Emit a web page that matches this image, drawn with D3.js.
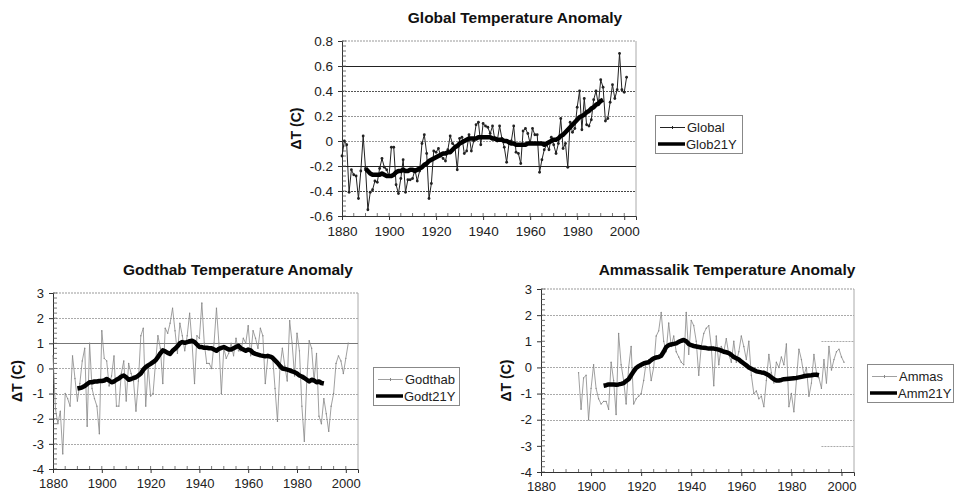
<!DOCTYPE html>
<html>
<head>
<meta charset="utf-8">
<script src="https://cdn.jsdelivr.net/npm/d3@7"></script>
<style>
  body { margin: 0; background: #fff; }
  svg { font-family: "Liberation Sans", Arial, sans-serif; }
</style>
</head>
<body>
<svg id="canvas" width="955" height="498"></svg>
<script>
// ---- data ----
let xTickYears = [1880, 1900, 1920, 1940, 1960, 1980, 2000];

let globalStart = 1880;
let globalValues = [
  -0.12, 0.0, -0.03, -0.41, -0.23, -0.27, -0.28, -0.46, -0.24, 0.04,
  -0.22, -0.55, -0.41, -0.39, -0.32, -0.33, -0.22, -0.14, -0.21, -0.23,
  -0.28, -0.05, -0.05, -0.35, -0.42, -0.30, -0.15, -0.41, -0.31, -0.31,
  -0.30, -0.23, -0.32, -0.24, -0.02, 0.05, -0.10, -0.46, -0.34, -0.08,
  -0.09, -0.06, -0.12, -0.14, -0.16, -0.07, 0.04, -0.02, -0.04, -0.23,
  0.02, 0.03, -0.10, -0.08, 0.05, -0.08, 0.0, 0.13, 0.15, -0.03,
  0.14, 0.12, 0.11, 0.06, 0.12, 0.01, 0.0, 0.12, 0.02, -0.05,
  -0.17, -0.02, 0.0, 0.12, -0.09, -0.10, -0.18, 0.08, 0.10, 0.06,
  -0.02, 0.10, 0.05, 0.05, -0.25, -0.15, -0.07, -0.03, -0.07, 0.03,
  -0.03, -0.10, -0.02, 0.18, -0.06, -0.02, -0.21, 0.15, 0.07, 0.10,
  0.27, 0.40, 0.09, 0.34, 0.13, 0.12, 0.17, 0.33, 0.40, 0.29,
  0.49, 0.43, 0.16, 0.18, 0.31, 0.45, 0.34, 0.41, 0.70, 0.41,
  0.39, 0.51
];
let glob21Start = 1890;
let glob21Values = [
  -0.22, -0.24, -0.26, -0.27, -0.27, -0.27, -0.27, -0.26, -0.27, -0.28,
  -0.28, -0.28, -0.27, -0.25, -0.24, -0.24, -0.23, -0.24, -0.24, -0.23,
  -0.23, -0.24, -0.23, -0.22, -0.21, -0.19, -0.18, -0.16, -0.15, -0.14,
  -0.13, -0.12, -0.11, -0.10, -0.10, -0.09, -0.09, -0.07, -0.05, -0.04,
  -0.02, -0.01, 0.0, 0.01, 0.02, 0.02, 0.02, 0.02, 0.03, 0.03,
  0.03, 0.03, 0.03, 0.03, 0.02, 0.02, 0.01, 0.01, 0.01, 0.0,
  0.0, -0.01, -0.02, -0.02, -0.03, -0.03, -0.03, -0.03, -0.03, -0.02,
  -0.02, -0.02, -0.02, -0.02, -0.02, -0.02, -0.03, -0.02, -0.01, 0.0,
  0.01, 0.01, 0.02, 0.04, 0.05, 0.07, 0.09, 0.11, 0.13, 0.15,
  0.17, 0.19, 0.20, 0.21, 0.23, 0.24, 0.26, 0.27, 0.29, 0.30,
  0.32, 0.33
];

let godthabStart = 1880;
let godthabValues = [
  0.5, -1.6, -2.2, -1.7, -3.4, -1.0, -1.2, -1.5, 0.5, -0.4,
  -1.3, -0.6, 0.3, 0.8, -2.3, 1.0, -0.8, -1.2, -1.5, -2.6,
  1.5, 0.4, 0.3, -0.7, -0.3, 0.5, -1.5, -1.5, -0.2, 0.3,
  -1.3, 0.2, -0.2, -0.5, -1.7, -0.5, 1.3, 1.6, -1.5, 0.1,
  -1.1, -1.0, 0.2, 1.3, 0.8, -0.6, 1.6, 1.4, 1.8, 2.4,
  1.5, 0.6, 1.8, 1.3, 0.7, 1.3, 2.2, 1.0, -0.6, 1.3,
  1.2, 2.6, 1.0, 0.2, 0.2, 0.0, 1.0, 2.4, 1.0, -1.0,
  0.8, 0.4, 0.6, 1.0, 0.5, 1.2, 0.7, 0.7, 1.2, 1.0,
  1.7, 0.5, 1.5, 1.2, 0.8, 1.6, 1.3, -0.6, 0.4, 0.5,
  0.5, -0.8, -2.1, 0.0, 0.8, 0.1, -0.5, 1.9, 1.0, -0.3,
  1.4, 0.7, -1.5, -2.9, -0.5, 1.1, 0.8, -0.5, 0.6, -1.9,
  -2.2, -1.2, -1.8, -2.5, -1.5, -1.0, 0.2, 0.5, 0.3, -0.2,
  0.4, 1.0
];
let godt21Start = 1890;
let godt21Values = [
  -0.80, -0.78, -0.75, -0.70, -0.62, -0.55, -0.55, -0.52, -0.52, -0.50,
  -0.50, -0.48, -0.42, -0.48, -0.55, -0.52, -0.45, -0.40, -0.32, -0.28,
  -0.35, -0.45, -0.42, -0.38, -0.35, -0.28, -0.20, -0.05, 0.05, 0.12,
  0.18, 0.25, 0.32, 0.45, 0.60, 0.72, 0.68, 0.62, 0.58, 0.70,
  0.78, 0.88, 1.00, 1.05, 1.02, 1.05, 1.08, 1.10, 1.05, 0.95,
  0.85, 0.85, 0.82, 0.82, 0.80, 0.80, 0.75, 0.70, 0.78, 0.82,
  0.85, 0.80, 0.75, 0.75, 0.80, 0.85, 0.90, 0.80, 0.75, 0.70,
  0.75, 0.72, 0.62, 0.58, 0.55, 0.52, 0.50, 0.48, 0.50, 0.47,
  0.42, 0.32, 0.22, 0.10, 0.00, -0.02, -0.05, -0.08, -0.12, -0.15,
  -0.20, -0.28, -0.32, -0.38, -0.45, -0.52, -0.45, -0.48, -0.55, -0.52,
  -0.58, -0.60
];

let ammasStart = 1895;
let ammasValues = [
  -0.2, -1.6, -0.4, -0.3, -2.0, -0.8, 0.1, -0.8, -1.2, -1.4,
  -1.3, -1.3, -1.6, 0.2, -0.5, -1.8, 1.3, 0.1, -0.5, -1.4,
  0.0, 0.8, -1.4, -1.2, -1.1, -1.0, -0.5, 0.2, 0.3, -0.5,
  0.0, 1.2, 1.4, 2.1, 1.0, 0.6, 1.7, 0.8, 1.2, 0.6,
  0.4, 0.2, 0.1, 2.1, 0.5, 1.8, 1.6, 1.0, -0.3, 0.8,
  1.3, 1.5, 1.6, 0.8, -0.7, 1.2, 0.1, 0.8, 0.6, 1.1,
  0.5, 0.2, 1.0, 0.2, 0.6, 1.2, 0.8, 0.3, 1.0, -0.3,
  -1.0, -0.9, -1.2, -1.1, -1.5, -0.5, 0.5, -0.2, -0.6, 0.2,
  0.0, 0.4, 0.1, 0.9, -1.5, -1.0, -1.7, -0.5, 0.7, 0.3,
  -0.3, 0.0, -1.1, -0.6, 0.5, -0.2, -0.4, -0.8, 0.3, -0.6,
  0.8, -0.1, 0.3, 0.6, 0.7, 0.4, 0.2
];
let amm21Start = 1905;
let amm21Values = [
  -0.70, -0.68, -0.65, -0.65, -0.65, -0.66, -0.65, -0.63, -0.60, -0.52,
  -0.45, -0.30, -0.15, -0.02, 0.05, 0.10, 0.15, 0.18, 0.20, 0.28,
  0.35, 0.38, 0.40, 0.45, 0.60, 0.78, 0.85, 0.88, 0.90, 0.92,
  0.98, 1.02, 1.05, 1.00, 0.90, 0.85, 0.82, 0.80, 0.78, 0.76,
  0.75, 0.74, 0.72, 0.72, 0.72, 0.70, 0.68, 0.64, 0.60, 0.58,
  0.55, 0.48, 0.40, 0.35, 0.30, 0.22, 0.15, 0.08, 0.00, -0.05,
  -0.10, -0.15, -0.17, -0.19, -0.20, -0.25, -0.30, -0.38, -0.45, -0.50,
  -0.50, -0.48, -0.45, -0.44, -0.43, -0.42, -0.41, -0.40, -0.38, -0.36,
  -0.34, -0.32, -0.31, -0.30, -0.28, -0.28, -0.30
];

// ---- drawing ----
let canvas = d3.select('#canvas');

let toPoints = (start, values) => values.map((v, i) => ({ year: start + i, value: v }));

let fmtY = (step) => (v) => {
  let r = Math.round(v / step) * step;
  if (Math.abs(r) < 1e-9) return '0';
  return step < 1 ? r.toFixed(1) : String(Math.round(r));
};

let drawPanel = (p) => {
  let x = d3.scaleLinear().domain([1880, 2005]).range([p.left, p.right]);
  let y = d3.scaleLinear().domain(p.yDomain).range([p.bottom, p.top]);
  let g = canvas.append('g');

  // title
  g.append('text')
    .attr('x', p.titleX).attr('y', p.titleY)
    .attr('text-anchor', 'middle')
    .attr('font-size', 15.5).attr('font-weight', 'bold').attr('fill', '#111')
    .text(p.title);

  // frame (top/right)
  g.append('line').attr('x1', p.left).attr('x2', p.right).attr('y1', p.top).attr('y2', p.top)
    .attr('stroke', '#999').attr('stroke-dasharray', '2,1');
  g.append('line').attr('x1', p.right).attr('x2', p.right).attr('y1', p.top).attr('y2', p.bottom)
    .attr('stroke', '#aaa');

  // gridlines
  p.grid.forEach((gl) => {
    g.append('line')
      .attr('x1', x(gl.from || 1880)).attr('x2', p.right)
      .attr('y1', Math.round(y(gl.v)) + 0.5).attr('y2', Math.round(y(gl.v)) + 0.5)
      .attr('stroke', gl.color)
      .attr('stroke-width', gl.w || 1)
      .attr('stroke-dasharray', gl.dash || null);
  });

  // y axis
  let yTicks = y.ticks(7);
  let yAxis = d3.axisLeft(y).tickValues(yTicks).tickFormat(fmtY(p.yStep)).tickSize(4).tickPadding(5);
  let ya = g.append('g').attr('transform', `translate(${p.left},0)`).call(yAxis);
  ya.select('.domain').attr('stroke', '#333');
  ya.selectAll('.tick line').attr('stroke', '#333');
  ya.selectAll('text').attr('font-size', p.tickFont).attr('fill', '#222').attr('font-family', 'Liberation Sans, Arial, sans-serif');
  let minorY = d3.range(p.yDomain[0], p.yDomain[1] + 1e-9, p.yMinor);
  g.selectAll(null).data(minorY).enter().append('line')
    .attr('x1', p.left).attr('x2', p.left + 4)
    .attr('y1', (d) => y(d)).attr('y2', (d) => y(d))
    .attr('stroke', '#555').attr('stroke-width', 0.8);

  // x axis
  let xAxis = d3.axisBottom(x).tickValues(xTickYears).tickFormat(d3.format('d')).tickSize(4).tickPadding(6);
  let xa = g.append('g').attr('transform', `translate(0,${p.bottom})`).call(xAxis);
  xa.select('.domain').attr('stroke', '#333');
  xa.selectAll('.tick line').attr('stroke', '#333');
  xa.selectAll('text').attr('font-size', p.tickFont).attr('fill', '#222').attr('font-family', 'Liberation Sans, Arial, sans-serif');
  g.selectAll(null).data(d3.range(1885, 2005, 5)).enter().append('line')
    .attr('x1', (d) => x(d)).attr('x2', (d) => x(d))
    .attr('y1', p.bottom).attr('y2', p.bottom - 3)
    .attr('stroke', '#555').attr('stroke-width', 0.8);

  // y label
  g.append('text')
    .attr('transform', `translate(${p.ylabX},${(p.top + p.bottom) / 2}) rotate(-90)`)
    .attr('text-anchor', 'middle')
    .attr('font-size', 14).attr('font-weight', 'bold').attr('fill', '#111')
    .text('ΔT (C)');

  // raw series
  let raw = toPoints(p.rawStart, p.rawValues);
  let line = d3.line().x((d) => x(d.year)).y((d) => y(d.value));
  g.append('path').datum(raw).attr('d', line)
    .attr('fill', 'none').attr('stroke', p.rawColor).attr('stroke-width', p.rawWidth)
    .attr('stroke-linejoin', 'round');
  g.selectAll(null).data(raw).enter().append('circle')
    .attr('cx', (d) => x(d.year)).attr('cy', (d) => y(d.value))
    .attr('r', p.markerR).attr('fill', p.rawColor);

  // 21-year running mean
  let smooth = toPoints(p.smoothStart, p.smoothValues);
  g.append('path').datum(smooth).attr('d', line)
    .attr('fill', 'none').attr('stroke', '#000').attr('stroke-width', 4.5)
    .attr('stroke-linejoin', 'round');

  // legend
  let lg = g.append('g').attr('transform', `translate(${p.legX},${p.legY})`);
  lg.append('rect').attr('x', 0.5).attr('y', 0.5).attr('width', p.legW).attr('height', 38)
    .attr('fill', '#fff').attr('stroke', '#888');
  lg.append('line').attr('x1', 5).attr('x2', 30).attr('y1', 12.5).attr('y2', 12.5)
    .attr('stroke', p.rawColor).attr('stroke-width', p.rawWidth);
  lg.append('line').attr('x1', 17.5).attr('x2', 17.5).attr('y1', 11).attr('y2', 14)
    .attr('stroke', p.rawColor).attr('stroke-width', 1);
  lg.append('line').attr('x1', 3).attr('x2', 30).attr('y1', 29).attr('y2', 29)
    .attr('stroke', '#000').attr('stroke-width', 3.5);
  lg.append('text').attr('x', 32).attr('y', 17).attr('font-size', 13).attr('fill', '#222').text(p.rawName);
  lg.append('text').attr('x', 31).attr('y', 34).attr('font-size', 13).attr('fill', '#222').text(p.smoothName);
};

drawPanel({
  title: 'Global Temperature Anomaly', titleX: 515, titleY: 23,
  left: 342, right: 636, top: 41, bottom: 216, ylabX: 301, tickFont: 13.5,
  yDomain: [-0.6, 0.8], yStep: 0.2, yMinor: 0.04,
  grid: [
    { v: 0.6, color: '#222' },
    { v: 0.4, color: '#555', dash: '2,1' },
    { v: 0.2, color: '#999', dash: '2,1' },
    { v: 0, color: '#999', dash: '2,1' },
    { v: -0.2, color: '#222' },
    { v: -0.4, color: '#444', dash: '2,1' }
  ],
  rawStart: globalStart, rawValues: globalValues, rawColor: '#222', rawWidth: 1, markerR: 1.4,
  smoothStart: glob21Start, smoothValues: glob21Values,
  rawName: 'Global', smoothName: 'Glob21Y',
  legX: 655, legY: 115, legW: 87
});

drawPanel({
  title: 'Godthab Temperature Anomaly', titleX: 238, titleY: 275,
  left: 53, right: 358, top: 293, bottom: 469, ylabX: 22, tickFont: 13,
  yDomain: [-4, 3], yStep: 1, yMinor: 0.2,
  grid: [
    { v: 2, color: '#aaa', dash: '2,1' },
    { v: 1, color: '#777' },
    { v: 0, color: '#aaa', dash: '2,1' },
    { v: -1, color: '#aaa', dash: '2,1' },
    { v: -2, color: '#aaa', dash: '2,1' },
    { v: -3, color: '#aaa', dash: '2,1' }
  ],
  rawStart: godthabStart, rawValues: godthabValues, rawColor: '#888', rawWidth: 0.8, markerR: 0.7,
  smoothStart: godt21Start, smoothValues: godt21Values,
  rawName: 'Godthab', smoothName: 'Godt21Y',
  legX: 373, legY: 367, legW: 86
});

drawPanel({
  title: 'Ammassalik Temperature Anomaly', titleX: 727, titleY: 275,
  left: 541, right: 854, top: 289, bottom: 472, ylabX: 511, tickFont: 13,
  yDomain: [-4, 3], yStep: 1, yMinor: 0.2,
  grid: [
    { v: 2, color: '#aaa', dash: '2,1' },
    { v: 1, color: '#aaa', dash: '2,1', from: 1992 },
    { v: 0, color: '#aaa', dash: '2,1' },
    { v: -1, color: '#aaa', dash: '2,1' },
    { v: -2, color: '#aaa', dash: '2,1' },
    { v: -3, color: '#aaa', dash: '2,1', from: 1992 }
  ],
  rawStart: ammasStart, rawValues: ammasValues, rawColor: '#888', rawWidth: 0.8, markerR: 0.7,
  smoothStart: amm21Start, smoothValues: amm21Values,
  rawName: 'Ammas', smoothName: 'Amm21Y',
  legX: 867, legY: 364, legW: 86
});
</script>
</body>
</html>
